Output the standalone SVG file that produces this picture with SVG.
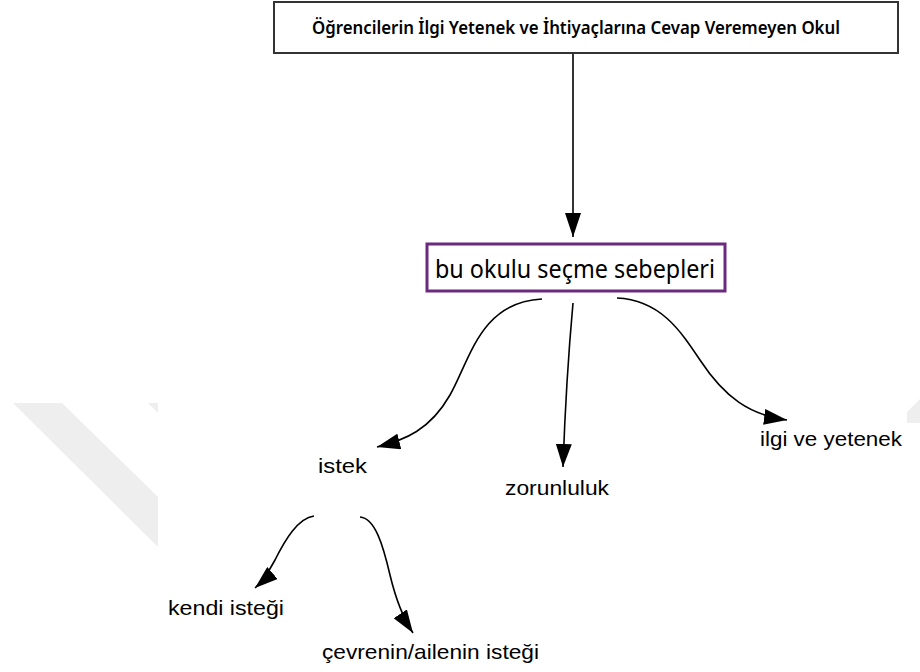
<svg xmlns="http://www.w3.org/2000/svg" width="920" height="672" viewBox="0 0 920 672">
  <style>
    .title { font-family: "Noto Sans", "Liberation Sans", sans-serif; font-size: 18px; font-weight: 600; fill: #000; }
    .main { font-family: "Noto Sans", "Liberation Sans", sans-serif; font-size: 26px; fill: #000; }
    .lbl { font-family: "Liberation Sans", Arial, sans-serif; font-size: 21px; fill: #000; }
    .conn { fill: none; stroke: #000; stroke-width: 1.6; }
    .wm { fill: #eeeeee; stroke: none; }
  </style>
  <defs>
    <marker id="arrBig" viewBox="0 0 24 16" refX="24" refY="8" markerWidth="24" markerHeight="16" markerUnits="userSpaceOnUse" orient="auto">
      <path d="M0,0 L24,8 L0,16 z" fill="#000"/>
    </marker>
    <marker id="arr" viewBox="0 0 23 16" refX="23" refY="8" markerWidth="23" markerHeight="16" markerUnits="userSpaceOnUse" orient="auto">
      <path d="M0,0 L23,8 L0,16 z" fill="#000"/>
    </marker>
  </defs>
  <rect x="0" y="0" width="920" height="672" fill="#fff"/>
  <g id="watermark">
    <polygon class="wm" points="13,403 62,403 158,497 158,547"/>
    <polygon class="wm" points="148,403 158,403 158,413"/>
    <polygon class="wm" points="920,399 907,412 907,423 920,423"/>
  </g>
  <g id="connectors">
    <path class="conn" d="M573,53 L573,237" marker-end="url(#arrBig)"/>
    <path class="conn" d="M542,299 C480,302 470,360 450,395 C430,430 405,440 377,447" marker-end="url(#arr)"/>
    <path class="conn" d="M573,303 Q566,380 563,467" marker-end="url(#arr)"/>
    <path class="conn" d="M617,298 C660,300 680,330 700,360 C725,398 750,415 787,420" marker-end="url(#arr)"/>
    <path class="conn" d="M314,516 C298,518 285,540 275,560 C268,573 262,582 255,588" marker-end="url(#arr)"/>
    <path class="conn" d="M360,517 C375,518 383,545 390,575 C396,600 403,618 413,633" marker-end="url(#arr)"/>
  </g>
  <g id="node-title">
    <rect x="274" y="2" width="624" height="51" fill="#fff" stroke="#333" stroke-width="2"/>
    <text class="title" x="312" y="34" textLength="528" lengthAdjust="spacingAndGlyphs">Öğrencilerin İlgi Yetenek ve İhtiyaçlarına Cevap Veremeyen Okul</text>
  </g>
  <g id="node-sebepler">
    <rect x="427" y="244" width="298" height="47" fill="#fff" stroke="#6a2a7e" stroke-width="3"/>
    <text class="main" x="435" y="278" textLength="280" lengthAdjust="spacingAndGlyphs">bu okulu seçme sebepleri</text>
  </g>
  <g id="node-istek">
    <text class="lbl" x="318" y="473" textLength="49" lengthAdjust="spacingAndGlyphs">istek</text>
  </g>
  <g id="node-zorunluluk">
    <text class="lbl" x="505" y="495" textLength="104" lengthAdjust="spacingAndGlyphs">zorunluluk</text>
  </g>
  <g id="node-ilgi">
    <text class="lbl" x="760" y="446" textLength="142" lengthAdjust="spacingAndGlyphs">ilgi ve yetenek</text>
  </g>
  <g id="node-kendi">
    <text class="lbl" x="168" y="615" textLength="116" lengthAdjust="spacingAndGlyphs">kendi isteği</text>
  </g>
  <g id="node-cevre">
    <text class="lbl" x="322" y="659" textLength="217" lengthAdjust="spacingAndGlyphs">çevrenin/ailenin isteği</text>
  </g>
</svg>
